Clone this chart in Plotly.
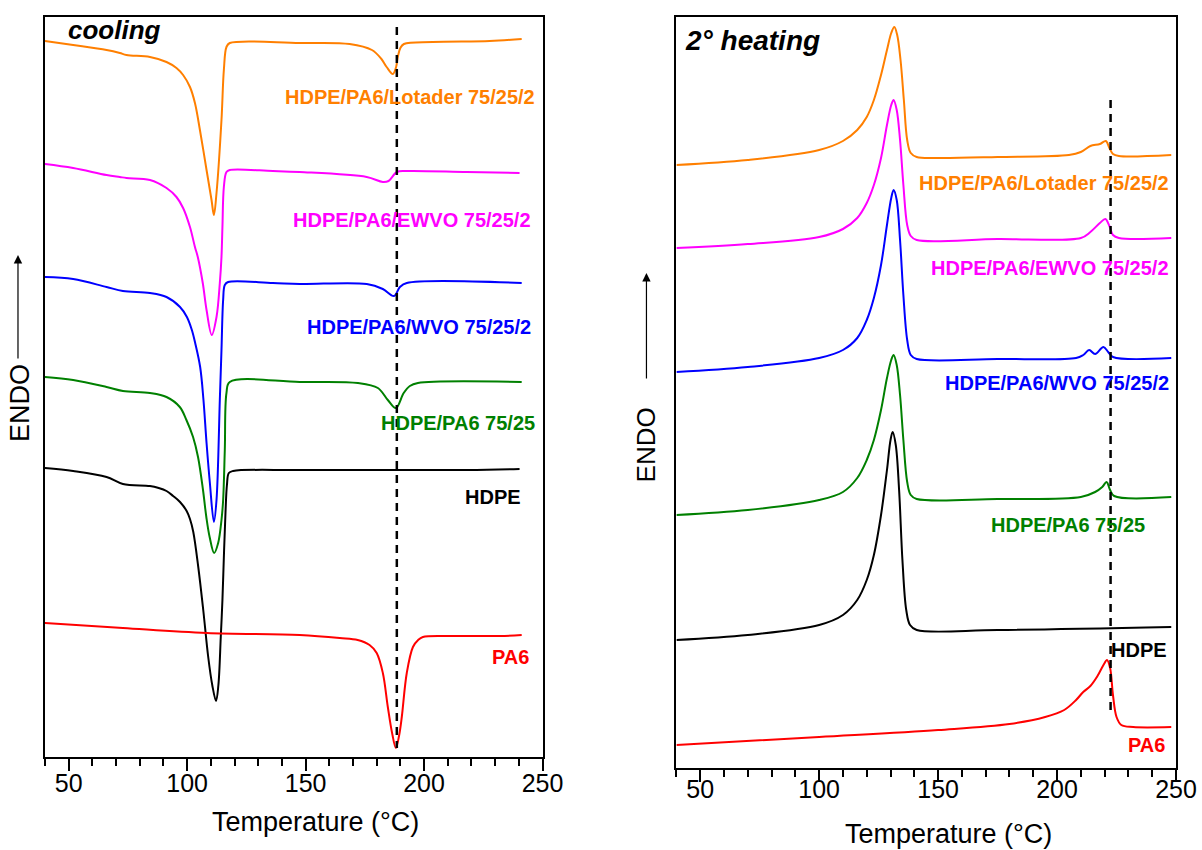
import plotly.graph_objects as go
from plotly.subplots import make_subplots

# ---------------- DATA (heat flow in arbitrary units, endo up) ----------------
# Cooling scans
cool_lotader_T = [40, 51.9, 66, 71.6, 74.4, 84.3, 91.3, 95.5, 98.3, 101.2, 103.3, 105.4, 108.2, 110.3, 111.3, 112.4, 114.5, 115.5, 116.6, 118, 147.5, 168.6, 178, 182, 184.2, 186.8, 188.2, 188.9, 190, 191.5, 203.6, 227.7, 241.2]
cool_lotader_y = [716, 712, 707, 704, 702, 700, 695, 689, 682, 670, 654, 627, 587, 557, 542, 564, 637, 687, 710, 714, 714, 713, 707, 698, 690, 683, 690, 700, 709, 713, 715, 716, 718]

cool_ewvo_T = [40, 51.9, 66, 71.6, 74.4, 84.3, 91.3, 95.5, 98.3, 101.2, 103.3, 104.5, 106.6, 108.2, 110.4, 112.4, 113.8, 114.5, 114.9, 115.5, 116.6, 118, 136.2, 147.5, 175.8, 182.6, 185, 188.5, 192.7, 218, 240.3]
cool_ewvo_y = [593, 589, 582, 580, 579, 577, 569, 560, 549, 530, 510, 500, 474, 447, 422, 440, 474, 500, 530, 570, 585, 587, 586, 585, 580, 575, 576, 585, 586, 585, 584]

cool_wvo_T = [40, 51.9, 66, 72.9, 84.3, 91.3, 97, 99.9, 102, 103.4, 105.5, 106.9, 108.2, 109.6, 111.3, 112.4, 113.8, 114.5, 115.2, 115.9, 117.3, 136.2, 147.5, 175.8, 182.6, 187.3, 189.8, 192.7, 241.2]
cool_wvo_y = [480, 478, 470, 466, 464, 460, 450, 440, 427, 414, 390, 357, 314, 274, 235, 257, 357, 407, 457, 472, 475, 474, 473, 473, 468, 461, 470, 474, 474]

cool_blend_T = [40, 51.9, 66, 72.9, 84.3, 91.3, 96.9, 99.7, 102.5, 104.6, 106.7, 108.1, 109.5, 111.4, 113.1, 114.5, 115.2, 115.9, 116.6, 118, 147.5, 172.1, 180.5, 184.7, 188.1, 191.4, 194, 197.4, 241.2]
cool_blend_y = [380, 377, 370, 366, 364, 360, 350, 337, 320, 300, 267, 240, 220, 204, 214, 237, 257, 307, 364, 375, 375, 374, 369, 357, 349, 364, 371, 374, 375]

cool_hdpe_T = [40, 51.9, 66, 72.9, 84.3, 88, 91.3, 94.1, 97, 99.8, 101.2, 102.6, 104.7, 106.8, 108.9, 110.6, 112.2, 113.2, 114.2, 114.9, 115.6, 116.2, 116.8, 117.6, 119.4, 147.5, 218, 240.3]
cool_hdpe_y = [289, 286, 280, 273, 271, 269, 266, 261, 255, 246, 238, 225, 190, 147, 100, 72, 56, 72, 120, 157, 207, 245, 272, 284, 286, 287, 287, 288]

cool_pa6_T = [40, 72.9, 108.3, 147.5, 164.4, 172, 177, 180, 182.6, 184.7, 186.5, 188.1, 189.5, 190.6, 192.7, 195.3, 197.5, 199.5, 210.9, 232, 241.2]
cool_pa6_y = [134, 129, 124, 122, 119, 117, 112, 104, 84, 50, 24, 9, 22, 40, 84, 110, 117, 120, 121, 121, 122]

cool_ref_T = 188.5
cool_ref_y = [730, 9]

# Second heating scans
heat_lotader_T = [40, 70, 100, 110, 116, 120, 123, 126, 128.5, 130.3, 131.6, 132.8, 134.2, 135.6, 137, 138.5, 141, 150, 175, 205, 210, 214, 218, 220.5, 222, 223.5, 226, 248]
heat_lotader_y = [603, 608, 618, 627, 638, 651, 668, 693, 718, 735, 741, 733, 708, 668, 628, 615, 611, 610, 611, 613, 616, 622, 624, 627, 620, 614, 612, 613]

heat_ewvo_T = [40, 70, 100, 110, 116, 120, 123, 126, 128.5, 130.3, 131.3, 132.6, 134, 135.4, 137, 138.5, 141, 175, 210, 214, 218, 220.3, 222, 223.5, 226, 248]
heat_ewvo_y = [520, 524, 531, 539, 550, 565, 583, 610, 643, 663, 668, 658, 628, 583, 543, 532, 528, 529, 530, 536, 545, 549, 542, 533, 530, 530]

heat_wvo_T = [40, 70, 100, 110, 116, 120, 123, 126, 128.5, 130.3, 131.3, 132.6, 134, 135.4, 137, 138.5, 141, 175, 208, 211, 213.5, 216, 219.5, 221.5, 223.5, 248]
heat_wvo_y = [396, 401, 410, 418, 430, 448, 470, 503, 543, 570, 578, 568, 528, 473, 428, 413, 409, 409, 410, 413, 418, 414, 421, 416, 411, 410]

heat_blend_T = [40, 70, 100, 110, 116, 120, 123, 126, 128.5, 130.3, 131.3, 132.6, 134, 135.4, 137, 138.5, 141, 175, 210, 216, 219, 220.8, 222.3, 224, 248]
heat_blend_y = [253, 258, 268, 276, 290, 308, 328, 358, 390, 408, 413, 403, 373, 328, 286, 273, 269, 269, 271, 276, 281, 286, 278, 272, 271]

heat_hdpe_T = [40, 70, 100, 110, 116, 120, 123, 126, 128.5, 130, 130.9, 132.2, 133.6, 135, 136.6, 138.2, 141, 175, 248]
heat_hdpe_y = [128, 133, 143, 153, 168, 188, 213, 253, 298, 328, 336, 323, 278, 208, 158, 143, 138, 138, 141]

heat_pa6_T = [40, 100, 150, 180, 195, 203, 208, 211, 214, 217, 219.5, 221, 222.3, 223.5, 225, 227, 232, 248]
heat_pa6_y = [23, 31, 38, 44, 51, 58, 68, 76, 82, 92, 103, 108, 100, 73, 51, 43, 41, 41]

heat_ref_T = 222.5
heat_ref_y = [668, 56]

series_names = ["HDPE/PA6/Lotader 75/25/2", "HDPE/PA6/EWVO 75/25/2", "HDPE/PA6/WVO 75/25/2",
                "HDPE/PA6 75/25", "HDPE", "PA6"]
x_ticks = [50, 100, 150, 200, 250]

# ---------------- STYLE ----------------
colors = ["#FF7F00", "#FF00FF", "#0000FF", "#008000", "#000000", "#FF0000"]
FONT = "Liberation Sans, Arial, sans-serif"

W, H = 1202, 850
WR = 1182  # effective rendered width of the plot in the viewer


def px_x(p):
    return p / WR


def px_y(p):
    return 1 - p / H


fig = make_subplots(rows=1, cols=2)

cool_sets = [(cool_lotader_T, cool_lotader_y), (cool_ewvo_T, cool_ewvo_y), (cool_wvo_T, cool_wvo_y),
             (cool_blend_T, cool_blend_y), (cool_hdpe_T, cool_hdpe_y), (cool_pa6_T, cool_pa6_y)]
heat_sets = [(heat_lotader_T, heat_lotader_y), (heat_ewvo_T, heat_ewvo_y), (heat_wvo_T, heat_wvo_y),
             (heat_blend_T, heat_blend_y), (heat_hdpe_T, heat_hdpe_y), (heat_pa6_T, heat_pa6_y)]

for (tx, ty), c, n in zip(cool_sets, colors, series_names):
    fig.add_trace(go.Scatter(x=tx, y=ty, mode="lines", name=n,
                             line=dict(color=c, width=2, shape="spline", smoothing=1.0),
                             showlegend=False), row=1, col=1)
for (tx, ty), c, n in zip(heat_sets, colors, series_names):
    fig.add_trace(go.Scatter(x=tx, y=ty, mode="lines", name=n,
                             line=dict(color=c, width=2, shape="spline", smoothing=1.0),
                             showlegend=False), row=1, col=2)

fig.add_trace(go.Scatter(x=[cool_ref_T, cool_ref_T], y=cool_ref_y, mode="lines",
                         line=dict(color="black", width=2.5, dash="8px,6px"), showlegend=False), row=1, col=1)
fig.add_trace(go.Scatter(x=[heat_ref_T, heat_ref_T], y=heat_ref_y, mode="lines",
                         line=dict(color="black", width=2.5, dash="8px,6px"), showlegend=False), row=1, col=2)

xcommon = dict(range=[40, 250], tickvals=x_ticks, ticks="outside", ticklen=12, tickwidth=2,
               tickcolor="black", showline=True, linecolor="black", linewidth=2, mirror=True,
               showgrid=False, zeroline=False,
               tickfont=dict(family=FONT, size=25, color="black"),
               minor=dict(dtick=10, tick0=0, ticks="outside", ticklen=7, tickwidth=1.5,
                          tickcolor="black", showgrid=False))
ycommon = dict(showticklabels=False, ticks="", showline=True, linecolor="black", linewidth=2,
               mirror=True, showgrid=False, zeroline=False)

fig.update_xaxes(domain=[px_x(45), px_x(543)], ticklabelstandoff=-9, **xcommon, row=1, col=1)
fig.update_xaxes(domain=[px_x(677), px_x(1177)], ticklabelstandoff=-14, **xcommon, row=1, col=2)
fig.update_yaxes(domain=[px_y(757), px_y(17)], range=[0, 740], **ycommon, row=1, col=1)
fig.update_yaxes(domain=[px_y(768), px_y(17)], range=[0, 751], **ycommon, row=1, col=2)


def note(text, xp, yp, size, color="black", xanchor="center", yanchor="middle", angle=0):
    return dict(text=text, x=px_x(xp), y=px_y(yp), xref="paper", yref="paper",
                xanchor=xanchor, yanchor=yanchor, textangle=angle, showarrow=False,
                font=dict(family=FONT, size=size, color=color))


ann = []
ann.append(note("Temperature (°C)", 316, 822, 27))
ann.append(note("Temperature (°C)", 949, 834, 27))
ann.append(note("ENDO", 20, 403, 27, angle=-90))
ann.append(note("ENDO", 647, 445, 26, angle=-90))
ann.append(dict(text="", x=px_x(18), y=px_y(255), xref="paper", yref="paper", showarrow=True,
                ax=0, ay=105, arrowhead=2, arrowsize=1.4, arrowwidth=1.2, arrowcolor="black"))
ann.append(dict(text="", x=px_x(647), y=px_y(273), xref="paper", yref="paper", showarrow=True,
                ax=0, ay=107, arrowhead=2, arrowsize=1.4, arrowwidth=1.2, arrowcolor="black"))
ann.append(note("<b><i>cooling</i></b>", 66, 30, 26, xanchor="left"))
ann.append(note("<b><i>2° heating</i></b>", 684, 41, 28, xanchor="left"))

left_lab = [(537, 97), (533, 220), (533, 327), (537, 423), (523, 497), (531, 657)]
right_lab = [(1172, 183), (1172, 268), (1172, 383), (1148, 525), (1170, 650), (1168, 745)]
for (xr, yc), c, n in zip(left_lab + right_lab, colors + colors, series_names + series_names):
    ann.append(note("<b>%s</b>" % n, xr, yc, 20, color=c, xanchor="right"))

fig.update_layout(width=W, height=H, margin=dict(l=0, r=0, t=0, b=0),
                  plot_bgcolor="white", paper_bgcolor="white", annotations=ann)

fig.write_html("out.html")
